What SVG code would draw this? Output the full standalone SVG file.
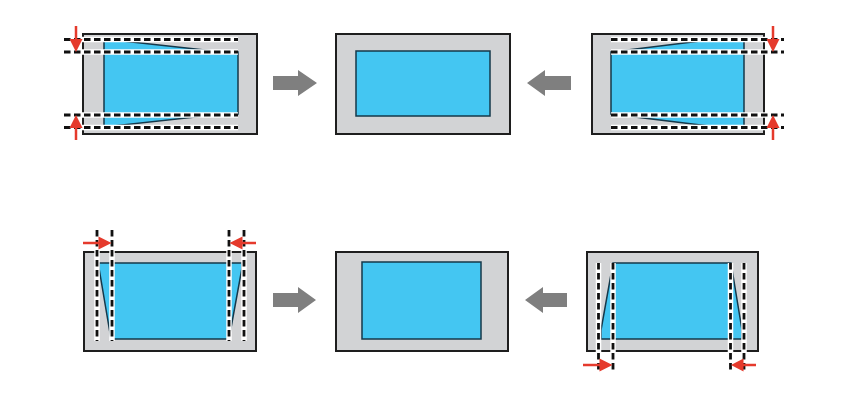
<svg xmlns="http://www.w3.org/2000/svg" width="850" height="400" viewBox="0 0 850 400">
<defs>
<style>
.frame{fill:#d2d3d5;stroke:#1e1e1e;stroke-width:2}
.img{fill:#44c6f2;stroke:#15384a;stroke-width:1.5;stroke-linejoin:miter}
.dw{stroke:#ffffff;stroke-width:5.5;fill:none}
.db{stroke:#111111;stroke-width:2.8;stroke-dasharray:6.5 3.5;fill:none}
.ra{stroke:#e53a2c;stroke-width:2.5;fill:none}
.rh{fill:#e53a2c}
.ga{fill:#7f7f7f}
</style>
</defs>
<rect width="850" height="400" fill="#ffffff"/>

<g id="panel-top-left">
<rect class="frame" x="83" y="34" width="174" height="100"/>
<polygon class="img" points="104,39 223,52 238,52 238,114 223,114 104,127"/>
<g>
<line class="dw" x1="64" y1="39.5" x2="238" y2="39.5"/><line class="db" x1="64" y1="39.5" x2="238" y2="39.5"/>
<line class="dw" x1="64" y1="52" x2="238" y2="52"/><line class="db" x1="64" y1="52" x2="238" y2="52"/>
<line class="dw" x1="64" y1="115" x2="238" y2="115"/><line class="db" x1="64" y1="115" x2="238" y2="115"/>
<line class="dw" x1="64" y1="127.5" x2="238" y2="127.5"/><line class="db" x1="64" y1="127.5" x2="238" y2="127.5"/>
</g>
<line class="ra" x1="76" y1="26" x2="76" y2="42"/>
<polygon class="rh" points="69.5,39 82.5,39 76,52"/>
<line class="ra" x1="76" y1="125" x2="76" y2="140"/>
<polygon class="rh" points="69.5,128 82.5,128 76,115"/>
</g>

<g id="panel-top-center">
<rect class="frame" x="336" y="34" width="174" height="100"/>
<rect class="img" x="356" y="51" width="134" height="65"/>
</g>

<g id="panel-top-right">
<rect class="frame" x="592" y="34" width="172" height="100"/>
<polygon class="img" points="611,52 717,39 744,39 744,127 717,127 611,114"/>
<g>
<line class="dw" x1="611" y1="39.5" x2="784" y2="39.5"/><line class="db" x1="611" y1="39.5" x2="784" y2="39.5"/>
<line class="dw" x1="611" y1="52" x2="784" y2="52"/><line class="db" x1="611" y1="52" x2="784" y2="52"/>
<line class="dw" x1="611" y1="115" x2="784" y2="115"/><line class="db" x1="611" y1="115" x2="784" y2="115"/>
<line class="dw" x1="611" y1="127.5" x2="784" y2="127.5"/><line class="db" x1="611" y1="127.5" x2="784" y2="127.5"/>
</g>
<line class="ra" x1="773" y1="26" x2="773" y2="42"/>
<polygon class="rh" points="766.5,39 779.5,39 773,52"/>
<line class="ra" x1="773" y1="125" x2="773" y2="140"/>
<polygon class="rh" points="766.5,128 779.5,128 773,115"/>
</g>

<g id="panel-bottom-left">
<rect class="frame" x="84" y="252" width="172" height="99"/>
<polygon class="img" points="99,263 242,263 242,268 229,339 111,339 99,268"/>
<g>
<line class="dw" x1="97" y1="230" x2="97" y2="341"/><line class="db" x1="97" y1="230" x2="97" y2="341"/>
<line class="dw" x1="112" y1="230" x2="112" y2="341"/><line class="db" x1="112" y1="230" x2="112" y2="341"/>
<line class="dw" x1="229" y1="230" x2="229" y2="341"/><line class="db" x1="229" y1="230" x2="229" y2="341"/>
<line class="dw" x1="244" y1="230" x2="244" y2="341"/><line class="db" x1="244" y1="230" x2="244" y2="341"/>
</g>
<line class="ra" x1="83" y1="243" x2="101" y2="243"/>
<polygon class="rh" points="98.5,236.5 98.5,249.5 111.5,243"/>
<line class="ra" x1="256" y1="243" x2="240" y2="243"/>
<polygon class="rh" points="242.5,236.5 242.5,249.5 229.5,243"/>
</g>

<g id="panel-bottom-center">
<rect class="frame" x="336" y="252" width="172" height="99"/>
<rect class="img" x="362" y="262" width="119" height="77"/>
</g>

<g id="panel-bottom-right">
<rect class="frame" x="587" y="252" width="171" height="99"/>
<polygon class="img" points="613,263 731,263 742,330 742,339 601,339 601,330"/>
<g>
<line class="dw" x1="598.5" y1="263" x2="598.5" y2="370"/><line class="db" x1="598.5" y1="263" x2="598.5" y2="370"/>
<line class="dw" x1="613" y1="263" x2="613" y2="370"/><line class="db" x1="613" y1="263" x2="613" y2="370"/>
<line class="dw" x1="730.5" y1="263" x2="730.5" y2="370"/><line class="db" x1="730.5" y1="263" x2="730.5" y2="370"/>
<line class="dw" x1="744" y1="263" x2="744" y2="370"/><line class="db" x1="744" y1="263" x2="744" y2="370"/>
</g>
<line class="ra" x1="583" y1="365" x2="602" y2="365"/>
<polygon class="rh" points="599.5,358.5 599.5,371.5 612.5,365"/>
<line class="ra" x1="756" y1="365" x2="741" y2="365"/>
<polygon class="rh" points="743.5,358.5 743.5,371.5 731,365"/>
</g>

<g id="connectors">
<polygon class="ga" points="273,76 298,76 298,70 317,83 298,96 298,90 273,90"/>
<polygon class="ga" points="571,76 545,76 545,70 527,83 545,96 545,90 571,90"/>
<polygon class="ga" points="273,293 298,293 298,287 316,300 298,313 298,307 273,307"/>
<polygon class="ga" points="567,293 543,293 543,287 525,300 543,313 543,307 567,307"/>
</g>
</svg>
